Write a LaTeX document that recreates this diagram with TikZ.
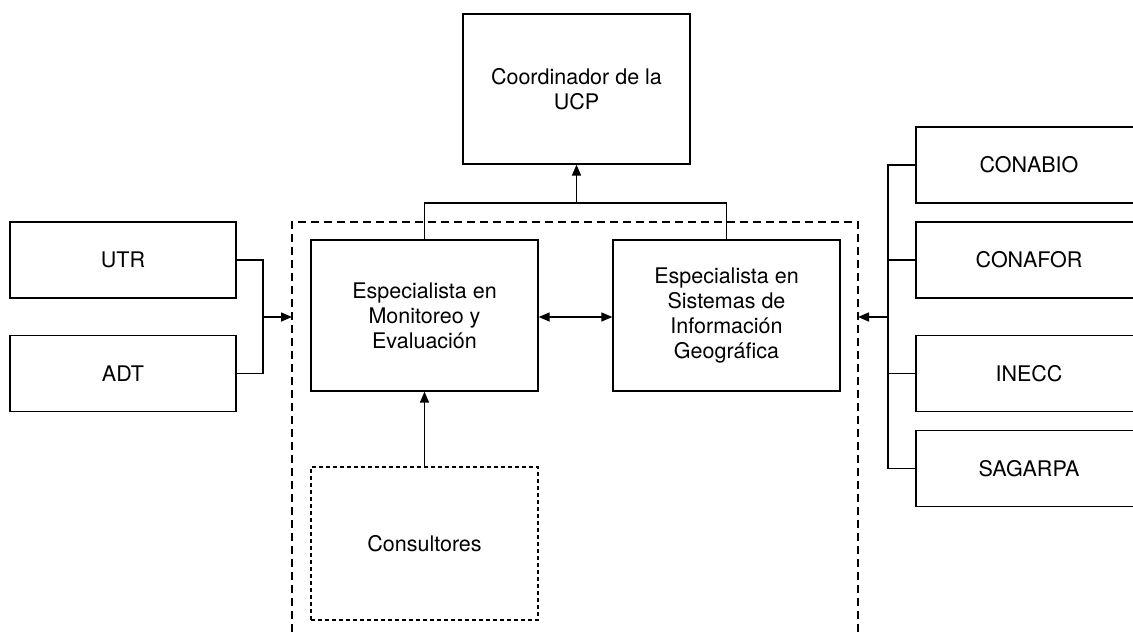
\documentclass[tikz,border=0pt]{standalone}
\usepackage{fontspec}
\setmainfont{TeX Gyre Heros}
\usetikzlibrary{arrows.meta}
\begin{document}
\begin{tikzpicture}[x=1pt,y=-1pt,
  box/.style={draw, line width=1.3pt, minimum width=227pt, align=center, inner sep=0pt,
    font=\fontsize{21.5}{25}\selectfont},
  tallbox/.style={box, minimum height=151pt},
  smallbox/.style={box, minimum height=76pt},
  ln/.style={line width=1.3pt},
  arr/.style={line width=1.5pt, -{Triangle[length=11pt,width=9pt]}},
  darr/.style={line width=1.5pt, {Triangle[length=11pt,width=9pt]}-{Triangle[length=11pt,width=9pt]}}]
\useasboundingbox (0,0) rectangle (1133,637);
\fill[white] (0,0) rectangle (1133,637);
% dashed container
\coordinate (dtl) at (292,222);
\coordinate (dtr) at (858,222);
\draw[line width=1.3pt, dash pattern=on 8pt off 5pt] (292,645) -- (dtl) -- (dtr) -- (858,645);
\node[tallbox, minimum height=150pt] (coord) at (576.5,89) {Coordinador de la\\UCP};
\node[tallbox] (mon) at (424.5,315.5) {Especialista en\\Monitoreo y\\Evaluación};
\node[tallbox] (sig) at (726.5,315.5) {Especialista en\\Sistemas de\\Información\\Geográfica};
\node[tallbox, minimum height=153pt, dash pattern=on 4pt off 3pt] (cons) at (424.5,543.5) {Consultores};
\node[smallbox, minimum width=226pt] (utr) at (123,260) {UTR};
\node[smallbox, minimum width=226pt] (adt) at (123,373.5) {ADT};
\node[smallbox, minimum width=226pt] (conabio) at (1029,165) {CONABIO};
\node[smallbox, minimum width=226pt] (conafor) at (1029,260) {CONAFOR};
\node[smallbox, minimum width=226pt] (inecc) at (1029,373.5) {INECC};
\node[smallbox, minimum width=226pt] (sagarpa) at (1029,468.5) {SAGARPA};
% top join
\coordinate (j) at (576.5,203);
\draw[ln] (mon.north) |- (j) -| (sig.north);
\draw[arr] (j) -- (coord.south);
% left join
\coordinate (lj) at (263,317);
\coordinate (dl) at (292,317);
\draw[ln] (utr.east) -| (lj) |- (adt.east);
\draw[arr] (lj) -- (dl);
% right join
\coordinate (rj) at (888,317);
\coordinate (dr) at (858,317);
\draw[ln] (conabio.west) -| (rj) |- (sagarpa.west);
\draw[ln] (conafor.west) -- (conafor.west -| rj);
\draw[ln] (inecc.west) -- (inecc.west -| rj);
\draw[arr] (rj) -- (dr);
% internal
\draw[darr] (mon.east |- dl) -- (sig.west |- dl);
\draw[arr] (cons.north) -- (mon.south);
\end{tikzpicture}
\end{document}
